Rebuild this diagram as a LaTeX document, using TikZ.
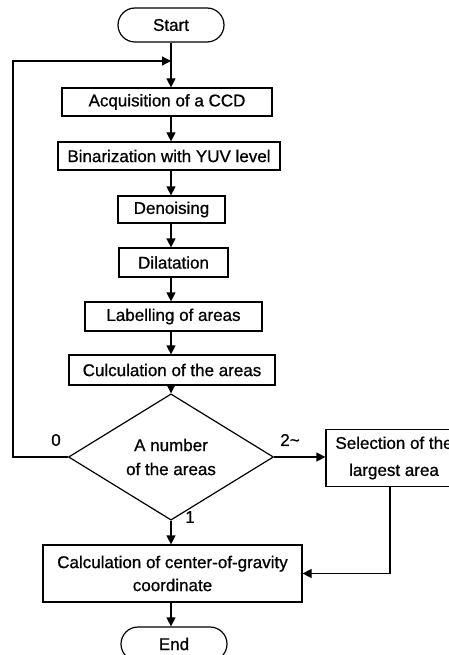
\documentclass[tikz,border=0pt]{standalone}
\usepackage{fontspec}
\setmainfont{Liberation Sans}[FakeBold=0.8]
\usetikzlibrary{shapes.geometric,arrows.meta}
\begin{document}
\begin{tikzpicture}[x=1pt,y=-1pt,
  every node/.style={font=\fontsize{17}{24}\selectfont},
  box/.style={draw,line width=1.2pt,rectangle,inner sep=0pt,align=center},
  term/.style={draw,line width=1.2pt,rectangle,rounded corners=17pt,minimum width=106pt,minimum height=34pt,inner sep=0pt},
  dec/.style={draw,line width=1.2pt,diamond,inner sep=0pt,minimum width=205pt,minimum height=90pt,align=center},
  lbl/.style={inner sep=0pt},
  arr/.style={line width=1.2pt,-{Triangle[length=9pt,width=9pt]}}]
\useasboundingbox (0,0) rectangle (449,655);
\fill[white] (0,0) rectangle (449,655);
\clip (0,0) rectangle (449,655);
\coordinate (ax) at (171,0);
\node[term] (start) at (171,25) {Start};
\node[box,minimum width=210pt,minimum height=28pt] (acq) at (167,102) {Acquisition of a CCD};
\node[box,minimum width=222pt,minimum height=28pt] (bin) at (169,156) {Binarization with YUV level};
\node[box,minimum width=107pt,minimum height=27pt] (den) at (171.5,209.5) {Denoising};
\node[box,minimum width=109pt,minimum height=29pt] (dil) at (173.5,262.5) {Dilatation};
\node[box,minimum width=177pt,minimum height=29pt] (lab) at (173.5,316.5) {Labelling of areas};
\node[box,minimum width=206pt,minimum height=30pt] (cul) at (172,370) {Culculation of the areas};
\node[dec] (num) at (171,457) {A number\\of the areas};
\node[box,minimum width=136pt,minimum height=57pt,font=\fontsize{17}{27}\selectfont] (sel) at (394,458) {Selection of the\\largest area};
\node[box,minimum width=259pt,minimum height=57pt,font=\fontsize{17}{23}\selectfont] (calc) at (172.5,573.5) {Calculation of center-of-gravity\\coordinate};
\node[term] (end) at (174,644) {End};
\coordinate (j) at (171,61);
\coordinate (lc) at (13,0);
\node[lbl] (l0) at (56,440) {0};
\node[lbl] (l2) at (290,440) {2\textasciitilde};
\node[lbl] (l1) at (190,517) {1};
\draw[arr] (start.south -| ax) -- (acq.north -| ax);
\draw[arr] (acq.south -| ax) -- (bin.north -| ax);
\draw[arr] (bin.south -| ax) -- (den.north -| ax);
\draw[arr] (den.south -| ax) -- (dil.north -| ax);
\draw[arr] (dil.south -| ax) -- (lab.north -| ax);
\draw[arr] (lab.south -| ax) -- (cul.north -| ax);
\draw[arr] (cul.south -| ax) -- (num.north);
\draw[arr] (num.south) -- (calc.north -| num.south);
\draw[arr] (num.east) -- (sel.west |- num.east);
\draw[arr] ([xshift=-4pt]sel.south) |- (calc.east);
\draw[arr] (num.west) -- (num.west -| lc) |- (j);
\draw[arr] (calc.south -| ax) -- (end.north -| ax);
\end{tikzpicture}
\end{document}
